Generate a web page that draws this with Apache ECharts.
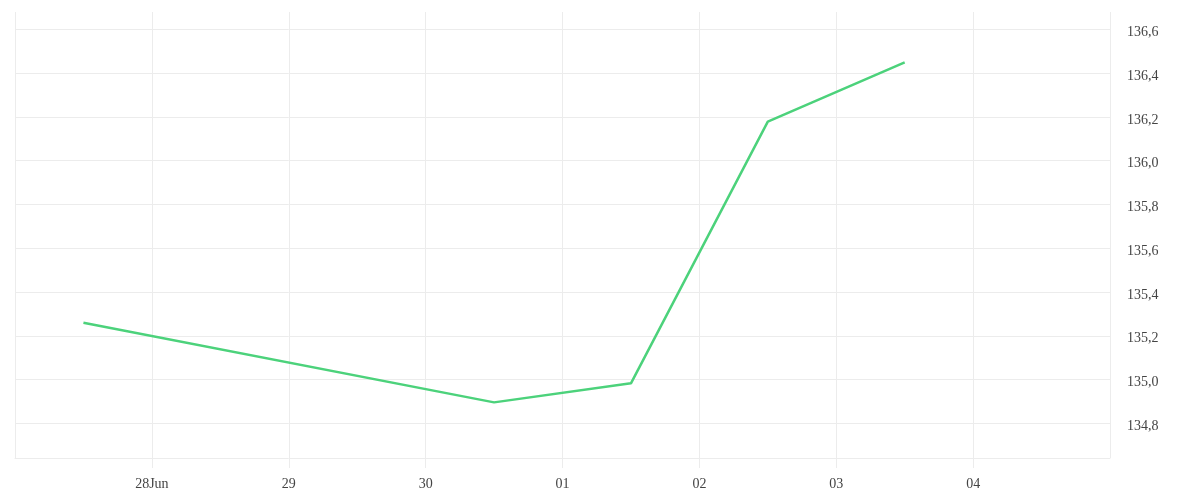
<!DOCTYPE html>
<html>
<head>
<meta charset="utf-8">
<script src="https://cdn.jsdelivr.net/npm/echarts@6/dist/echarts.min.js"></script>
<style>
html,body{margin:0;padding:0;background:#fff;}
#chart{width:1200px;height:500px;}
</style>
</head>
<body>
<div id="chart"></div>
<script>
// Data
const startDate = '2025-06-27';
const endDate = '2025-07-05';
const dates = ['2025-06-27', '2025-06-30', '2025-07-01', '2025-07-02', '2025-07-03'];
const values = [135.26, 134.896, 134.983, 136.178, 136.449];
const xTickLabels = ['27', '28Jun', '29', '30', '01', '02', '03', '04', '05'];
const yMin = 134.642;
const yMax = 136.679;

const DAY = 86400000;
function dayOffset(s) {
  const p = s.split('-').map(Number);
  const q = startDate.split('-').map(Number);
  return (Date.UTC(p[0], p[1] - 1, p[2]) - Date.UTC(q[0], q[1] - 1, q[2])) / DAY;
}
// each daily value sits at the middle of its day
const seriesData = dates.map((d, i) => [dayOffset(d) + 0.5, values[i]]);

const gridColor = '#ececec';
const fontFamily = "'Liberation Serif', serif";

const chart = echarts.init(document.getElementById('chart'));
chart.setOption({
  animation: false,
  backgroundColor: '#ffffff',
  grid: { left: 15, right: 90, top: 12, bottom: 42, containLabel: false },
  xAxis: {
    type: 'value',
    min: 0,
    max: dayOffset(endDate),
    interval: 1,
    axisLine: { show: true, lineStyle: { color: gridColor, width: 1 } },
    axisTick: { show: true, length: 10, lineStyle: { color: gridColor, width: 1 } },
    splitLine: { show: true, lineStyle: { color: gridColor, width: 1 } },
    axisLabel: {
      show: true,
      showMinLabel: false,
      showMaxLabel: false,
      margin: 19,
      color: '#444',
      fontFamily: fontFamily,
      fontSize: 14,
      formatter: function (v) { return xTickLabels[Math.round(v)] || ''; }
    }
  },
  yAxis: {
    type: 'value',
    position: 'right',
    min: yMin,
    max: yMax,
    splitNumber: 10,
    minInterval: 0.2,
    maxInterval: 0.2,
    axisLine: { show: false },
    axisTick: { show: false },
    splitLine: { show: true, showMinLine: false, showMaxLine: false, lineStyle: { color: gridColor, width: 1 } },
    axisLabel: {
      showMinLabel: false,
      showMaxLabel: false,
      margin: 17,
      verticalAlign: 'top',
      lineHeight: 6,
      color: '#444',
      fontFamily: fontFamily,
      fontSize: 14,
      formatter: function (v) { return v.toFixed(1).replace('.', ','); }
    }
  },
  series: [{
    type: 'line',
    data: seriesData,
    showSymbol: false,
    symbol: 'none',
    lineStyle: { color: '#4cd27b', width: 2.5 },
    itemStyle: { color: '#4cd27b' }
  }]
});
</script>
</body>
</html>
